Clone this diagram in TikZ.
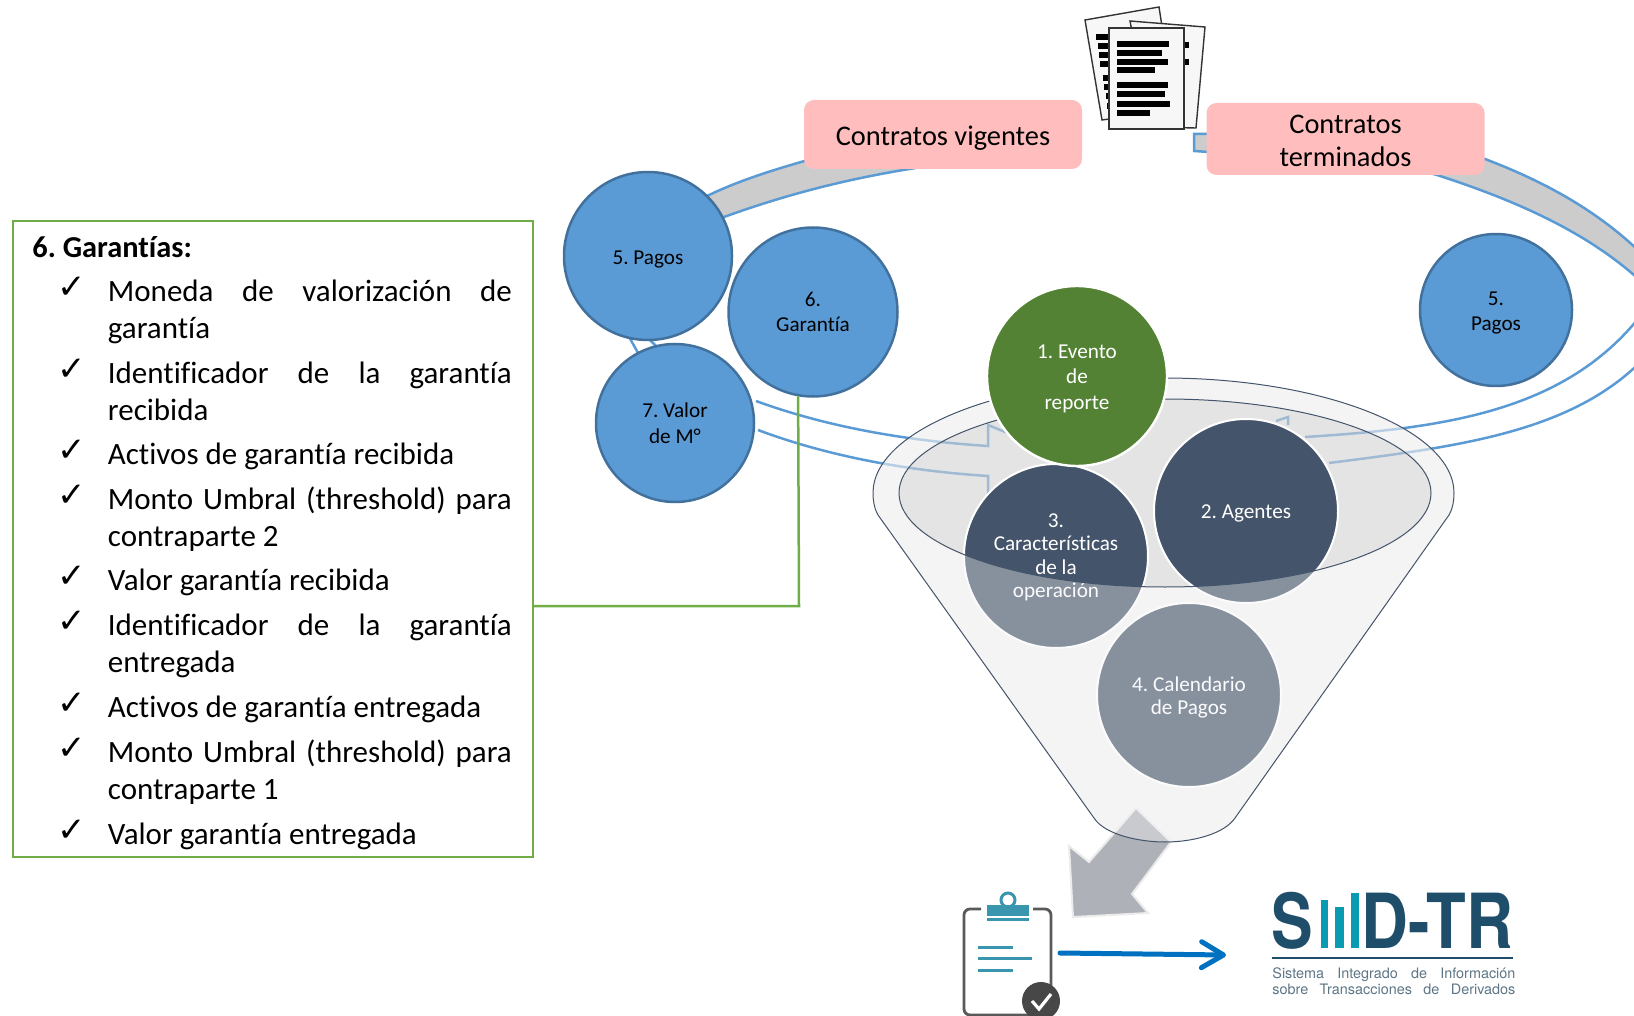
\documentclass[tikz,border=0pt]{standalone}
\usepackage{fontspec}
\usepackage{graphicx}
\setmainfont{Carlito}[Ligatures=NoCommon]
\newfontfamily\logofont{TeX Gyre Heros}
\newfontfamily\checkfont{DejaVu Sans}
\frenchspacing
\usetikzlibrary{arrows.meta}
\definecolor{ringblue}{HTML}{5B9BD5}
\definecolor{ballline}{HTML}{41719C}
\definecolor{navy}{HTML}{44546A}
\definecolor{evento}{HTML}{548235}
\definecolor{boxgreen}{HTML}{70AD47}
\definecolor{pinkbox}{HTML}{FFBDBD}
\definecolor{flecha}{HTML}{AEB1B8}
\definecolor{reporte}{HTML}{0070C0}
\definecolor{logoblue}{HTML}{1F4E6B}
\definecolor{logoteal}{HTML}{0A9BB3}
\definecolor{logogray}{HTML}{5D7585}
\definecolor{iconteal}{HTML}{3A95AE}
\tikzset{
    blueball/.style={circle, fill=ringblue, draw=ballline, line width=1.25pt, inner sep=0pt, align=center, font=\fontsize{10.6}{12.8}\selectfont},
    darkball/.style={circle, fill=navy, draw=white, line width=1pt, inner sep=0pt, align=center, text=white, font=\fontsize{10.6}{11.7}\selectfont},
    estadobox/.style={rectangle, fill=pinkbox, rounded corners=5pt, align=center, minimum width=139pt, font=\fontsize{14.2}{16.6}\selectfont},
    ringline/.style={ringblue, line width=1.25pt},
    sheet/.style={fill=black!3, draw=black!80, line width=0.7pt},
    itemtext/.style={anchor=north west, inner sep=0pt, text width=202pt, align=justify, font=\fontsize{15.5}{18.7}\selectfont},
    logoletter/.style={anchor=base west, inner sep=0pt, text=logoblue, font=\fontsize{38}{38}\logofont\bfseries},
    logosub/.style={anchor=base west, inner sep=0pt, text=logogray, font=\fontsize{7.2}{8}\logofont},
}
\newcommand{\funnelpath}{(878,515) .. controls (874,508) and (873,500) .. (873,493)
    .. controls (873,430) and (1003,378) .. (1163.5,378) .. controls (1324,378) and (1454,430) .. (1454,493)
    .. controls (1454,500) and (1453,508) .. (1449,515) -- (1235,818)
    .. controls (1225,833) and (1195,842) .. (1165,842) .. controls (1140,842) and (1105,835) .. (1094,818) -- cycle}
\newcommand{\topgap}[1]{\rule{0pt}{#1pt}}
\begin{document}
\begin{tikzpicture}[x=0.5pt, y=-0.5pt]
    \clip (0,0) rectangle (1634,1016);

    % Gray bands of the ring
    \draw[ringline, fill=black!20] (690,205) .. controls (730,182) and (780,168) .. (815,158) -- (930,135) -- (930,160)
        -- (922,167) .. controls (850,178) and (780,195) .. (700,226) -- cycle;
    \draw[ringline, fill=black!20] (1194,134) -- (1194,151) -- (1400,165) -- (1437,175)
        .. controls (1530,205) and (1600,240) .. (1650,290) -- (1650,262)
        .. controls (1600,210) and (1540,180) .. (1485,159) -- (1300,134) -- cycle;

    % Open part of the ring
    \draw[ringline] (756,401) .. controls (830,428) and (910,441) .. (988,446) -- (988,425) -- (1010,434);
    \draw[ringline] (758,430) .. controls (830,457) and (910,471) .. (988,476) -- (988,494);
    \draw[ringline] (1305,437) .. controls (1450,428) and (1570,410) .. (1645,310);
    \draw[ringline] (1329,463) .. controls (1470,445) and (1590,430) .. (1660,340);
    \draw[ringline] (1276,421) -- (1288,417) -- (1288,425);
    \draw[ringline] (628,335) -- (642,360);
    \draw[ringline] (645,335) -- (662,352);

    % Funnel
    \fill[black!11, fill opacity=0.4] \funnelpath;
    \fill[black!24, fill opacity=0.3] (1165,493) ellipse [x radius=266, y radius=94];

    % Arrow out of the funnel
    \draw[fill=flecha, draw=black!8, line width=1pt] (1136,808) -- (1171,842) -- (1132,894) -- (1148,913)
        -- (1073,917) -- (1069,846) -- (1089,862) -- cycle;

    \node[darkball, minimum size=92pt] (agentes) at (1246,511) {\topgap{9}2. Agentes};
    \node[darkball, minimum size=92pt] (caract) at (1056,556) {\topgap{8.3}3.\\Características\\de la\\operación};
    \node[darkball, minimum size=92pt] (calendario) at (1189,695) {\topgap{9.7}4. Calendario\\de Pagos};

    % Front of the funnel, over the circles
    \fill[black!4, fill opacity=0.38, even odd rule] \funnelpath (1165,493) ellipse [x radius=266, y radius=94];
    \draw[navy, line width=0.5pt] \funnelpath;
    \draw[navy, line width=0.5pt] (1165,493) ellipse [x radius=266, y radius=94];

    \node[circle, fill=evento, draw=white, line width=1.2pt, inner sep=0pt, minimum size=90pt, align=center, text=white,
        font=\fontsize{10.6}{12.6}\selectfont] (evento) at (1077,376) {\topgap{9.6}1. Evento\\de\\reporte};

    % Blue circles
    \node[blueball, minimum size=84pt] (pagosa) at (648,256) {\topgap{10}5. Pagos};
    \node[blueball, minimum size=84.5pt] (garantia) at (813,312) {6.\\Garantía};
    \node[blueball, minimum size=79pt] (valor) at (675,423) {7. Valor\\de M°};
    \node[blueball, minimum size=76pt] (pagosb) at (1496,310) {\topgap{10}5.\\Pagos};

    % Contract boxes
    \node[estadobox, minimum height=34.5pt] (vigentes) at (943,134.5) {\topgap{13.6}Contratos vigentes};
    \node[estadobox, minimum height=36pt] (terminados) at (1345.5,139) {\topgap{11}Contratos\\terminados};

    % Sheets of paper
    \draw[sheet] (1085,20) -- (1159,7) -- (1175,110) -- (1102,120) -- cycle;
    \draw[sheet] (1130,21) -- (1205,27) -- (1196,128) -- (1150,127) -- cycle;
    \foreach \xa/\ya in {1096/34,1098/43,1099/52,1100/61,1103/75,1104/84,1106/93,1107/103}
        \fill[black] (\xa,\ya) rectangle (1112,\ya+6);
    \foreach \ya in {42,59}
        \fill[black] (1180,\ya) rectangle (1189,\ya+6);
    \draw[sheet] (1109,28) rectangle (1184,129);
    \foreach \xb/\ya in {1169/41,1162/50,1168/59,1155/67,1168/82,1165/91,1170/101,1150/110}
        \fill[black] (1117,\ya) rectangle (\xb,\ya+6);

    % Box with the list
    \node[draw=boxgreen, line width=1.25pt, inner sep=0pt, minimum width=260pt, minimum height=318pt] (garantias) at (272.75,539) {};
    \node[anchor=west, inner sep=0pt, font=\fontsize{15.2}{18}\selectfont\bfseries] (titulo) at (32,247) {6. Garantías:};
    \foreach \ypos/\itemlabel in {
        275/{Moneda de valorización de\linebreak garantía},
        357/{Identificador de la garantía\linebreak recibida},
        438/{Activos de garantía recibida},
        483/{Monto Umbral (threshold) para\linebreak contraparte 2},
        564/{Valor garantía recibida},
        609/{Identificador de la garantía\linebreak entregada},
        691/{Activos de garantía entregada},
        736/{Monto Umbral (threshold) para\linebreak contraparte 1},
        818/{Valor garantía entregada}}{
        \node[font=\checkfont\fontsize{17}{17}\selectfont, inner sep=0pt] at (72,\ypos+13) {✓};
        \node[itemtext] at (107.5,\ypos) {\strut\itemlabel\strut};
    }

    % Line from the box up to circle 6
    \coordinate (codo) at (799,606);
    \draw[boxgreen, line width=1.25pt] (garantias.east |- codo) -- (codo) -- (garantia.-100);

    % Clipboard
    \draw[black!65, line width=1.4pt, rounded corners=3pt] (981,909) -- (964,909) -- (964,1015) -- (1051,1015) -- (1051,909) -- (1033,909);
    \draw[iconteal, line width=1.5pt] (1008,900) circle (3.5pt);
    \fill[iconteal] (987,905) rectangle (1029,916);
    \fill[iconteal] (987,918) rectangle (1029,921);
    \foreach \xb/\ya in {1013/947,1032/958,1013/970}
        \draw[iconteal, line width=1.5pt] (978,\ya) -- (\xb,\ya);
    \fill[black!72] (1041,1001) circle (9.5pt);
    \draw[white, line width=1.6pt] (1032,1001) -- (1039,1009) -- (1051,994);

    % Arrow to the logo
    \coordinate (clipout) at (1060,953);
    \coordinate (logoin) at (1226,955);
    \draw[-{Straight Barb[round,length=11pt,width=13pt]}, color=reporte, line width=2.5pt, line cap=round] (clipout) -- (logoin);

    % Logo
    \node[logoletter] (logos) at (1271,948) {\scalebox{.82}[1]{S}};
    \foreach \xa/\xb/\ya in {1320.5/1328/900,1335/1343.5/907,1350.5/1359/893}
        \fill[logoteal] (\xa,\ya) rectangle (\xb,948);
    \node[logoletter] (logod) at (1361,948) {\scalebox{.855}[1]{D-TR}};
    \draw[logoblue, line width=0.7pt] (1272,958) -- (1513,958);
    \node[logosub] (logouno) at (1272,978) {\makebox[121.5pt][s]{Sistema Integrado de Información}};
    \node[logosub] (logodos) at (1272,994) {\makebox[121.5pt][s]{sobre Transacciones de Derivados}};
\end{tikzpicture}
\end{document}
